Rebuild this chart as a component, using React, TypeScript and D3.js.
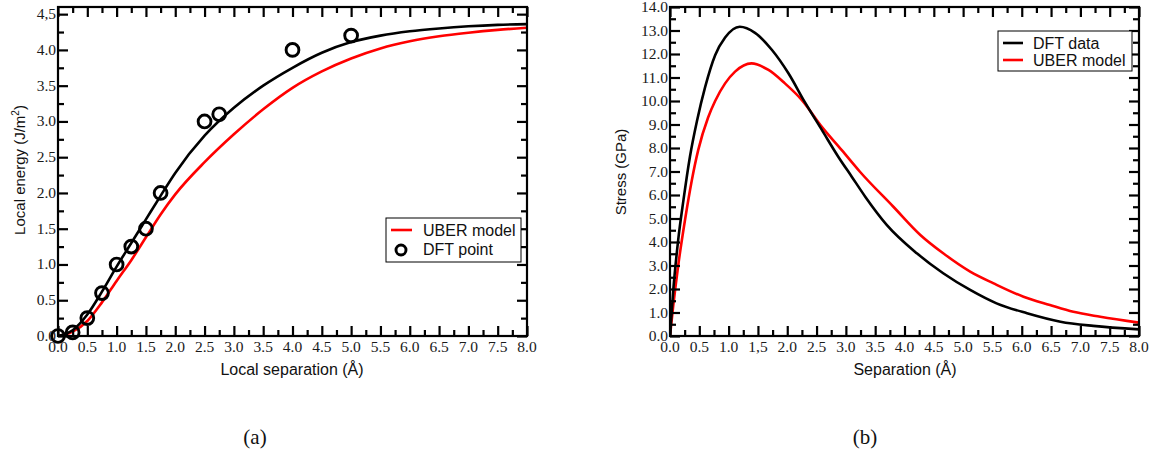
import React, { useEffect, useRef } from "react";
import * as d3 from "d3";

// ---------- Panel (a): local energy ----------
const dftFitX = [0, 0.25, 0.5, 0.75, 1.0, 1.25, 1.5, 1.75, 2.0, 2.5, 3.0, 3.5, 4.0, 4.5, 5.0, 5.5, 6.0, 6.5, 7.0, 7.5, 8.0];
const dftFitEnergy = [0, 0.08, 0.3, 0.62, 0.97, 1.3, 1.63, 1.96, 2.28, 2.8, 3.19, 3.5, 3.75, 3.96, 4.11, 4.2, 4.26, 4.3, 4.33, 4.35, 4.36];
const uberX = [0, 0.25, 0.5, 0.75, 1.0, 1.25, 1.5, 1.75, 2.0, 2.5, 3.0, 3.5, 4.0, 4.5, 5.0, 5.5, 6.0, 6.5, 7.0, 7.5, 8.0];
const uberEnergy = [0, 0.06, 0.21, 0.47, 0.77, 1.06, 1.38, 1.7, 1.98, 2.43, 2.82, 3.17, 3.47, 3.7, 3.88, 4.02, 4.12, 4.19, 4.24, 4.28, 4.31];
const dftPointX = [0, 0.25, 0.5, 0.75, 1.0, 1.25, 1.5, 1.75, 2.5, 2.75, 4.0, 5.0];
const dftPointY = [0, 0.05, 0.25, 0.6, 1.0, 1.25, 1.5, 2.0, 3.0, 3.1, 4.0, 4.2];
const energyYTicks = [0, 0.5, 1.0, 1.5, 2.0, 2.5, 3.0, 3.5, 4.0, 4.5];
const energyYMinor = [0.25, 0.75, 1.25, 1.75, 2.25, 2.75, 3.25, 3.75, 4.25];
const energyYLabels = ["0.0", "0.5", "1.0", "1.5", "2.0", "2.5", "3.0", "3.5", "4.0", "4,5"];
const energyXLabels = ["0.0", "0.5", "1.0", "1.5", "2.0", "2.5", "3.0", "3.5", "4.0", "4.5", "5.0", "5.5", "6.0", "6.5", "7.0", "7.5", "8.0"];

// ---------- Panel (b): stress ----------
const dftStressX = [0, 0.056, 0.14, 0.23, 0.34, 0.46, 0.6, 0.77, 0.94, 1.19, 1.45, 1.74, 2.02, 2.3, 2.59, 2.87, 3.1, 3.33, 3.7, 4.21, 4.66, 5.12, 5.57, 6.09, 6.66, 7.22, 8.0];
const dftStress = [0, 1.96, 4.09, 5.79, 7.63, 9.15, 10.6, 11.95, 12.7, 13.16, 12.9, 12.17, 11.18, 9.95, 8.77, 7.63, 6.78, 5.93, 4.72, 3.52, 2.67, 1.96, 1.39, 0.97, 0.61, 0.43, 0.28];
const uberStressX = [0, 0.056, 0.14, 0.26, 0.37, 0.48, 0.65, 0.77, 0.94, 1.11, 1.39, 1.68, 1.96, 2.25, 2.59, 2.93, 3.24, 3.81, 4.27, 4.66, 5.12, 5.52, 6.03, 6.48, 6.88, 7.34, 8.0];
const uberStress = [0, 1.3, 3.0, 5.0, 6.6, 7.9, 9.3, 10.0, 10.75, 11.25, 11.6, 11.32, 10.75, 10.04, 8.9, 7.91, 6.99, 5.5, 4.3, 3.52, 2.74, 2.24, 1.67, 1.32, 1.03, 0.82, 0.57];
const stressYTicks = [0, 1, 2, 3, 4, 5, 6, 7, 8, 9, 10, 11, 12, 13, 14];
const stressYMinor = [0.5, 1.5, 2.5, 3.5, 4.5, 5.5, 6.5, 7.5, 8.5, 9.5, 10.5, 11.5, 12.5, 13.5];
const stressYLabels = ["0.0", "1.0", "2.0", "3.0", "4.0", "5.0", "6.0", "7.0", "8.0", "9.0", "10.0", "11.0", "12.0", "13.0", "14.0"];
const stressXLabels = ["0.0", "0.5", "1.0", "1,5", "2.0", "2.5", "3.0", "3.5", "4.0", "4.5", "5.0", "5.5", "6.0", "6.5", "7.0", "7.5", "8.0"];

const xMajorTicks = [0, 0.5, 1, 1.5, 2, 2.5, 3, 3.5, 4, 4.5, 5, 5.5, 6, 6.5, 7, 7.5, 8];
const xMinorTicks = [0.25, 0.75, 1.25, 1.75, 2.25, 2.75, 3.25, 3.75, 4.25, 4.75, 5.25, 5.75, 6.25, 6.75, 7.25, 7.75];

const SERIF = "'Liberation Serif', 'Times New Roman', serif";
const SANS = "'Liberation Sans', Arial, sans-serif";

const xa = d3.scaleLinear().domain([0, 8]).range([58, 527]);
const ya = d3.scaleLinear().domain([0, 4.6]).range([336, 7]);
const xb = d3.scaleLinear().domain([0, 8]).range([670, 1139]);
const yb = d3.scaleLinear().domain([0, 14]).range([336, 7]);

function drawFrame(svg: any, xs: any, ys: any, yMaj: number[], yMin: number[], xLabels: string[], yLabels: string[]) {
  const g = svg.append("g");
  const [L, R] = xs.range();
  const [B, T] = ys.range();
  const addAxis = (axis: any, tx: number, ty: number) => {
    const a = g.append("g").attr("transform", `translate(${tx},${ty})`).call(axis);
    a.select(".domain").remove();
    a.selectAll("line").attr("stroke", "black").attr("stroke-width", 2.2);
  };
  addAxis(d3.axisTop(xs).tickValues(xMajorTicks).tickSize(10).tickFormat(() => ""), 0, B);
  addAxis(d3.axisTop(xs).tickValues(xMinorTicks).tickSize(6).tickFormat(() => ""), 0, B);
  addAxis(d3.axisBottom(xs).tickValues(xMajorTicks).tickSize(10).tickFormat(() => ""), 0, T);
  addAxis(d3.axisBottom(xs).tickValues(xMinorTicks).tickSize(6).tickFormat(() => ""), 0, T);
  addAxis(d3.axisRight(ys).tickValues(yMaj).tickSize(10).tickFormat(() => ""), L, 0);
  addAxis(d3.axisRight(ys).tickValues(yMin).tickSize(6).tickFormat(() => ""), L, 0);
  addAxis(d3.axisLeft(ys).tickValues(yMaj).tickSize(10).tickFormat(() => ""), R, 0);
  addAxis(d3.axisLeft(ys).tickValues(yMin).tickSize(6).tickFormat(() => ""), R, 0);
  g.append("rect").attr("x", L).attr("y", T).attr("width", R - L).attr("height", B - T)
    .attr("fill", "none").attr("stroke", "black").attr("stroke-width", 2.2);
  g.selectAll("text.xl").data(xMajorTicks).enter().append("text")
    .attr("x", (d: number) => xs(d)).attr("y", B + 16).attr("text-anchor", "middle")
    .attr("font-family", SERIF).attr("font-size", 15.5).attr("fill", "#1a1a1a")
    .text((_: number, i: number) => xLabels[i]);
  g.selectAll("text.yl").data(yMaj).enter().append("text")
    .attr("x", L - 2).attr("y", (d: number) => ys(d) + 5).attr("text-anchor", "end")
    .attr("font-family", SERIF).attr("font-size", 15.5).attr("fill", "#1a1a1a")
    .text((_: number, i: number) => yLabels[i]);
}

export default function App() {
  const ref = useRef<SVGGElement | null>(null);

  useEffect(() => {
    if (!ref.current) return;
    const svg = d3.select(ref.current);
    svg.selectAll("*").remove();
    drawFrame(svg, xa, ya, energyYTicks, energyYMinor, energyXLabels, energyYLabels);
    drawFrame(svg, xb, yb, stressYTicks, stressYMinor, stressXLabels, stressYLabels);
  }, []);

  const lineFit = d3.line<number>().x((_, i) => xa(dftFitX[i])).y((v) => ya(v)).curve(d3.curveMonotoneX);
  const lineUberE = d3.line<number>().x((_, i) => xa(uberX[i])).y((v) => ya(v)).curve(d3.curveMonotoneX);
  const lineDft = d3.line<number>().x((_, i) => xb(dftStressX[i])).y((v) => yb(v)).curve(d3.curveMonotoneX);
  const lineUber = d3.line<number>().x((_, i) => xb(uberStressX[i])).y((v) => yb(v)).curve(d3.curveMonotoneX);

  return (
    <svg width={1164} height={455} style={{ position: "absolute", left: 0, top: 0, background: "#fff" }}>
      <rect x={0} y={0} width={1164} height={455} fill="#fff" />
      <defs>
        <clipPath id="clipA"><rect x={58} y={7} width={469} height={329} /></clipPath>
        <clipPath id="clipB"><rect x={670} y={7} width={469} height={329} /></clipPath>
      </defs>

      {/* Panel (a) */}
      <g clipPath="url(#clipA)">
        <path d={lineUberE(uberEnergy) || ""} fill="none" stroke="#ff0000" strokeWidth={2.6} />
        <path d={lineFit(dftFitEnergy) || ""} fill="none" stroke="#000" strokeWidth={2.6} />
      </g>
      {dftPointX.map((v, i) => (
        <circle key={"p" + i} cx={xa(v)} cy={ya(dftPointY[i])} r={6.4} fill="none" stroke="#000" strokeWidth={2.9} />
      ))}

      {/* Panel (b) */}
      <g clipPath="url(#clipB)">
        <path d={lineUber(uberStress) || ""} fill="none" stroke="#ff0000" strokeWidth={2.6} />
        <path d={lineDft(dftStress) || ""} fill="none" stroke="#000" strokeWidth={2.6} />
      </g>

      {/* frames, ticks, tick labels */}
      <g ref={ref} />

      {/* Legend (a) */}
      <rect x={386} y={218} width={135} height={44} fill="#fff" stroke="#000" strokeWidth={1} />
      <line x1={391} x2={412} y1={230} y2={230} stroke="#ff0000" strokeWidth={2.6} />
      <circle cx={401} cy={250} r={5} fill="none" stroke="#000" strokeWidth={2.9} />
      <text x={423} y={236} fontFamily={SANS} fontSize={16} fill="#111">UBER model</text>
      <text x={423} y={255} fontFamily={SANS} fontSize={16} fill="#111">DFT point</text>
      <text x={292} y={375} textAnchor="middle" fontFamily={SANS} fontSize={16} fill="#111">Local separation (Å)</text>
      <text transform="translate(25,170) rotate(-90)" textAnchor="middle" fontFamily={SANS} fontSize={15} fill="#111">
        Local energy (J/m<tspan dy={-6} fontSize={10}>2</tspan><tspan dy={6}>)</tspan>
      </text>
      <text x={255} y={444} textAnchor="middle" fontFamily={SERIF} fontSize={21} fill="#111">(a)</text>

      {/* Legend (b) */}
      <rect x={998} y={31} width={134} height={40} fill="#fff" stroke="#000" strokeWidth={1} />
      <line x1={1003} x2={1023} y1={43} y2={43} stroke="#000" strokeWidth={2.6} />
      <line x1={1003} x2={1023} y1={60} y2={60} stroke="#ff0000" strokeWidth={2.6} />
      <text x={1033} y={49} fontFamily={SANS} fontSize={16} fill="#111">DFT data</text>
      <text x={1033} y={66} fontFamily={SANS} fontSize={16} fill="#111">UBER model</text>
      <text x={905} y={375} textAnchor="middle" fontFamily={SANS} fontSize={16} fill="#111">Separation (Å)</text>
      <text transform="translate(626,172) rotate(-90)" textAnchor="middle" fontFamily={SANS} fontSize={15} fill="#111">Stress (GPa)</text>
      <text x={865} y={444} textAnchor="middle" fontFamily={SERIF} fontSize={21} fill="#111">(b)</text>
    </svg>
  );
}
